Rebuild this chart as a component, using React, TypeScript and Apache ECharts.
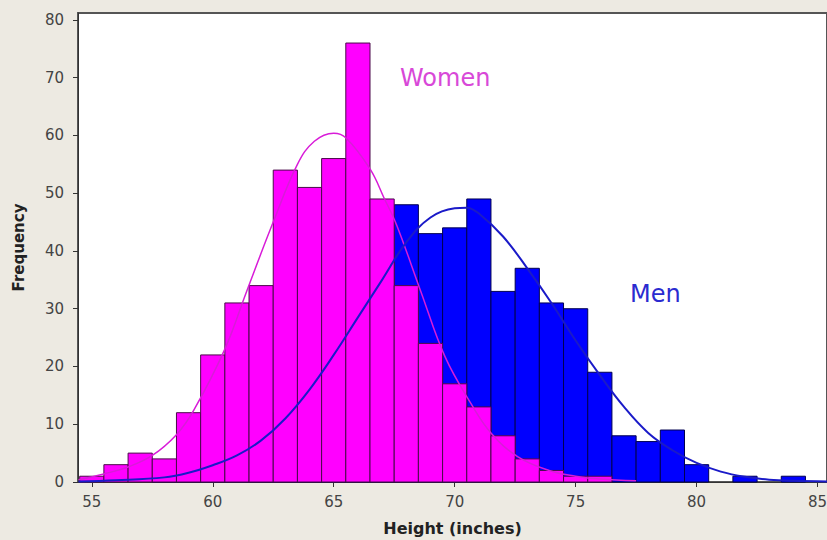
import React, { useEffect, useRef } from "react";
import * as echarts from "echarts";

// Bin centres (inches)
const heights = [55, 56, 57, 58, 59, 60, 61, 62, 63, 64, 65, 66, 67, 68, 69, 70, 71, 72, 73, 74, 75, 76, 77, 78, 79, 80, 81, 82, 83, 84, 85];
// Frequencies
const women = [1, 3, 5, 4, 12, 22, 31, 34, 54, 51, 56, 76, 49, 34, 24, 17, 13, 8, 4, 2, 1, 1, 0, 0, 0, 0, 0, 0, 0, 0, 0];
const men = [0, 0, 0, 1, 1, 3, 5, 7, 12, 17, 23, 30, 38, 48, 43, 44, 49, 33, 37, 31, 30, 19, 8, 7, 9, 3, 0, 1, 0, 1, 0];

// Fitted curves: [height, frequency]
const womenCurve = [
  [54.45, 0.4], [55.5, 1.4], [56.5, 2.6], [57.5, 4.6], [58.5, 8.2], [59.2, 12.3], [60.5, 23], [61.4, 33],
  [62.5, 45], [63.5, 55], [64.2, 59], [65.0, 60.4], [65.5, 59.6], [66.5, 54.2], [67.1, 49], [67.6, 44.5],
  [68.6, 33], [69.6, 21.7], [70.7, 13.4], [71.5, 8.5], [72.6, 4.4], [73.9, 2.0], [75.0, 1.0], [76.0, 0.5], [77.5, 0.2],
];
const menCurve = [
  [54.45, 0.1], [56.0, 0.3], [58.0, 0.8], [59.0, 1.6], [60.0, 2.9], [61.0, 4.6], [62.0, 7.2], [63.0, 11],
  [64.0, 16], [65.0, 22], [66.0, 28.5], [67.0, 35], [68.0, 41.5], [69.0, 45.8], [70.0, 47.4], [70.5, 47.5],
  [71.0, 46.5], [72.0, 42.5], [73.0, 37], [74.0, 31], [75.0, 24.5], [76.0, 18.5], [77.0, 13], [78.0, 8.5],
  [79.0, 5.5], [80.0, 3.3], [81.0, 1.8], [82.0, 0.9], [83.0, 0.4], [84.0, 0.2], [85.39, 0.1],
];

const xTickLabels = ["55", "60", "65", "70", "75", "80", "85"];
const yTickLabels = ["0", "10", "20", "30", "40", "50", "60", "70", "80"];

function barRenderer(fill: string, stroke: string) {
  return (params: any, api: any) => {
    const x = api.value(0);
    const y = api.value(1);
    if (!y) return null;
    const p0 = api.coord([x - 0.5, y]);
    const p1 = api.coord([x + 0.5, 0]);
    return {
      type: "rect",
      shape: { x: p0[0], y: p0[1], width: p1[0] - p0[0], height: p1[1] - p0[1] },
      style: { fill, stroke, lineWidth: 1 },
    };
  };
}

export default function App() {
  const ref = useRef<HTMLDivElement>(null);
  useEffect(() => {
    if (!ref.current) return;
    const chart = echarts.init(ref.current, null, { renderer: "svg" });
    const womenData = heights.map((h, i) => [h, women[i]]);
    const menData = heights.map((h, i) => [h, men[i]]);
    chart.setOption({
      animation: false,
      backgroundColor: "#EDEAE2",
      grid: {
        left: 78,
        top: 13,
        right: 0,
        bottom: 58,
        show: true,
        backgroundColor: "#FFFFFF",
        borderColor: "#555555",
        borderWidth: 2,
        outerBoundsMode: "none",
      },
      xAxis: {
        type: "value",
        min: 54.43,
        max: 85.39,
        minInterval: 5,
        maxInterval: 5,
        name: "Height (inches)",
        nameLocation: "middle",
        nameGap: 38,
        nameTextStyle: { fontFamily: "DejaVu Sans", fontWeight: "bold", fontSize: 16, color: "#222" },
        axisLine: { show: true, onZero: false, lineStyle: { color: "#333", width: 1 } },
        axisTick: { show: true, length: 5, lineStyle: { color: "#333" } },
        splitLine: { show: false },
        axisLabel: {
          margin: 12,
          fontFamily: "DejaVu Sans",
          fontSize: 15,
          color: "#444",
          showMinLabel: false,
          showMaxLabel: false,
          formatter: (v: number) => (xTickLabels.includes(String(v)) ? String(v) : ""),
        },
      },
      yAxis: {
        type: "value",
        min: 0,
        max: 81.2,
        interval: 10,
        name: "Frequency",
        nameLocation: "middle",
        nameRotate: 90,
        nameGap: 52,
        nameTextStyle: { fontFamily: "DejaVu Sans", fontWeight: "bold", fontSize: 15, color: "#222" },
        axisLine: { show: true, lineStyle: { color: "#333", width: 1 } },
        axisTick: { show: true, length: 5, lineStyle: { color: "#333" } },
        splitLine: { show: false },
        axisLabel: {
          margin: 14,
          fontFamily: "DejaVu Sans",
          fontSize: 15,
          color: "#444",
          showMaxLabel: false,
          formatter: (v: number) => (yTickLabels.includes(String(v)) ? String(v) : ""),
        },
      },
      series: [
        {
          name: "Men",
          type: "custom",
          renderItem: barRenderer("#0000FF", "#000050"),
          data: menData,
          encode: { x: 0, y: 1 },
          z: 2,
        },
        {
          name: "Women",
          type: "custom",
          renderItem: barRenderer("#FF00FF", "#4A0A4A"),
          data: womenData,
          encode: { x: 0, y: 1 },
          z: 3,
        },
        {
          name: "Women fit",
          type: "line",
          data: womenCurve,
          smooth: 0.4,
          showSymbol: false,
          lineStyle: { color: "#D81CD8", width: 1.5 },
          z: 4,
        },
        {
          name: "Men fit",
          type: "line",
          data: menCurve,
          smooth: 0.4,
          showSymbol: false,
          lineStyle: { color: "#1A1AC8", width: 2 },
          z: 5,
        },
      ],
      graphic: [
        {
          type: "text",
          left: 400,
          top: 66,
          style: { text: "Women", fontFamily: "DejaVu Sans", fontSize: 24, fill: "#D848D8" },
        },
        {
          type: "text",
          left: 630,
          top: 282,
          style: { text: "Men", fontFamily: "DejaVu Sans", fontSize: 24, fill: "#2B2BD0" },
        },
      ],
    });
    return () => chart.dispose();
  }, []);
  return (
    <div
      ref={ref}
      style={{ position: "absolute", left: 0, top: 0, width: 827, height: 540, background: "#EDEAE2" }}
    />
  );
}
